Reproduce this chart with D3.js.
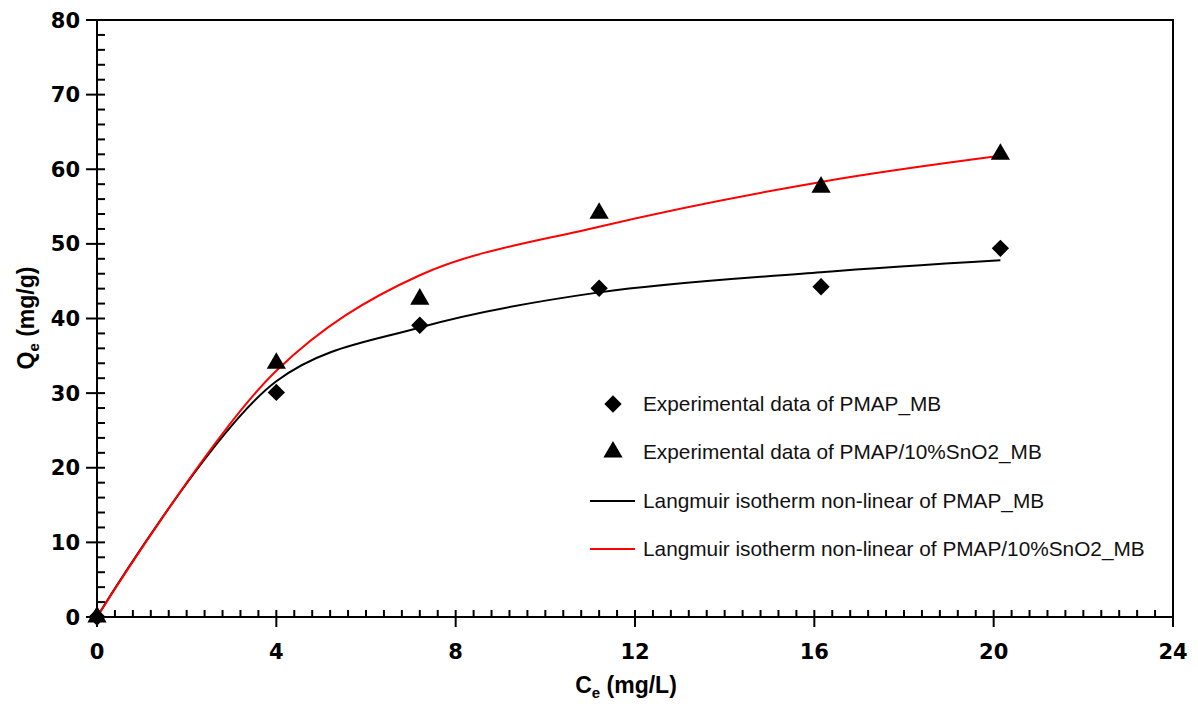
<!DOCTYPE html>
<html>
<head>
<meta charset="utf-8">
<script src="https://cdn.jsdelivr.net/npm/d3@7"></script>
<style>
  body { margin: 0; background: #fff; }
  svg { display: block; }
</style>
</head>
<body>
<svg id="chart" width="1198" height="708"></svg>
<script>
// ---- data ----
const ceValues = [0, 4, 7.2, 11.2, 16.15, 20.15];
const expPMAP = [0, 30.1, 39.1, 44.05, 44.25, 49.4];
const expPMAPSnO2 = [0, 34.0, 42.6, 54.1, 57.6, 62.0];
const fitPMAP = [0, 31.6, 38.8, 43.5, 46.2, 47.8];
const fitPMAPSnO2 = [0, 33.0, 45.8, 52.3, 58.3, 61.8];
const xTicks = [0, 4, 8, 12, 16, 20, 24];
const yTicks = [0, 10, 20, 30, 40, 50, 60, 70, 80];
const legendLabels = [
  "Experimental data of PMAP_MB",
  "Experimental data of PMAP/10%SnO2_MB",
  "Langmuir isotherm non-linear of PMAP_MB",
  "Langmuir isotherm non-linear of PMAP/10%SnO2_MB"
];

// ---- layout ----
const W = 1198, H = 708;
const m = { left: 97, right: 25, top: 20, bottom: 91 };
const svg = d3.select("#chart");
const x = d3.scaleLinear().domain([0, 24]).range([m.left, W - m.right]);
const y = d3.scaleLinear().domain([0, 80]).range([H - m.bottom, m.top]);

const tickFont = "'DejaVu Sans', sans-serif";
const legendFont = "'Liberation Sans', Arial, sans-serif";

// minor ticks
const xMinor = d3.range(0, 24.001, 0.4).filter(v => Math.abs(v / 4 - Math.round(v / 4)) > 1e-6);
const yMinor = d3.range(0, 80.001, 2).filter(v => v % 10 !== 0);

const axisG = svg.append("g").attr("stroke", "#000").attr("stroke-width", 2);
axisG.append("rect")
  .attr("x", x(0)).attr("y", y(80))
  .attr("width", x(24) - x(0)).attr("height", y(0) - y(80))
  .attr("fill", "none");
axisG.selectAll(".xM").data(xTicks).enter().append("line")
  .attr("x1", d => x(d)).attr("x2", d => x(d))
  .attr("y1", y(0) - 7).attr("y2", y(0) + 10);
axisG.selectAll(".xm").data(xMinor).enter().append("line")
  .attr("x1", d => x(d)).attr("x2", d => x(d))
  .attr("y1", y(0) - 7).attr("y2", y(0));
axisG.selectAll(".yM").data(yTicks).enter().append("line")
  .attr("x1", x(0) - 11).attr("x2", x(0) + 8)
  .attr("y1", d => y(d)).attr("y2", d => y(d));
axisG.selectAll(".ym").data(yMinor).enter().append("line")
  .attr("x1", x(0)).attr("x2", x(0) + 8)
  .attr("y1", d => y(d)).attr("y2", d => y(d));

// tick labels
svg.append("g").selectAll("text").data(xTicks).enter().append("text")
  .attr("x", d => x(d)).attr("y", y(0) + 42)
  .attr("text-anchor", "middle")
  .attr("font-family", tickFont).attr("font-weight", "bold").attr("font-size", 21)
  .text(d => d);
svg.append("g").selectAll("text").data(yTicks).enter().append("text")
  .attr("x", x(0) - 17).attr("y", d => y(d) + 7.5)
  .attr("text-anchor", "end")
  .attr("font-family", tickFont).attr("font-weight", "bold").attr("font-size", 21)
  .text(d => d);

// axis titles
const xt = svg.append("text")
  .attr("x", 626).attr("y", 693)
  .attr("text-anchor", "middle")
  .attr("font-family", legendFont).attr("font-weight", "bold").attr("font-size", 23);
xt.append("tspan").text("C");
xt.append("tspan").attr("font-size", 15).attr("dy", 5).text("e");
xt.append("tspan").attr("dy", -5).text(" (mg/L)");

const yt = svg.append("text")
  .attr("transform", "translate(34,318) rotate(-90)")
  .attr("text-anchor", "middle")
  .attr("font-family", legendFont).attr("font-weight", "bold").attr("font-size", 23);
yt.append("tspan").text("Q");
yt.append("tspan").attr("font-size", 15).attr("dy", 5).text("e");
yt.append("tspan").attr("dy", -5).text(" (mg/g)");

// fitted curves
const line = d3.line().x(d => x(d[0])).y(d => y(d[1])).curve(d3.curveCatmullRom.alpha(0.5));
svg.append("path").datum(d3.zip(ceValues, fitPMAP))
  .attr("d", line).attr("fill", "none").attr("stroke", "#000").attr("stroke-width", 2);
svg.append("path").datum(d3.zip(ceValues, fitPMAPSnO2))
  .attr("d", line).attr("fill", "none").attr("stroke", "#ff0000").attr("stroke-width", 2);

// markers
const diamond = d3.symbol().type(d3.symbolSquare).size(150);
const triangle = d3.symbol().type(d3.symbolTriangle).size(160);
svg.append("g").selectAll("path").data(d3.zip(ceValues, expPMAP)).enter().append("path")
  .attr("d", diamond)
  .attr("transform", d => `translate(${x(d[0])},${y(d[1])}) rotate(45)`)
  .attr("fill", "#000");
svg.append("g").selectAll("path").data(d3.zip(ceValues, expPMAPSnO2)).enter().append("path")
  .attr("d", triangle)
  .attr("transform", d => `translate(${x(d[0])},${y(d[1])})`)
  .attr("fill", "#000");

// legend
const lg = svg.append("g");
const rowY = [404, 452, 501, 549];
lg.append("path").attr("d", diamond).attr("transform", `translate(613,${rowY[0]}) rotate(45)`).attr("fill", "#000");
lg.append("path").attr("d", triangle).attr("transform", `translate(613,${rowY[1]})`).attr("fill", "#000");
lg.append("line").attr("x1", 590).attr("x2", 635).attr("y1", rowY[2]).attr("y2", rowY[2])
  .attr("stroke", "#000").attr("stroke-width", 2);
lg.append("line").attr("x1", 590).attr("x2", 635).attr("y1", rowY[3]).attr("y2", rowY[3])
  .attr("stroke", "#ff0000").attr("stroke-width", 2);
lg.selectAll("text").data(legendLabels).enter().append("text")
  .attr("x", 643).attr("y", (d, i) => rowY[i] + 7)
  .attr("font-family", legendFont).attr("font-size", 20.8).attr("fill", "#111")
  .text(d => d);
</script>
</body>
</html>
